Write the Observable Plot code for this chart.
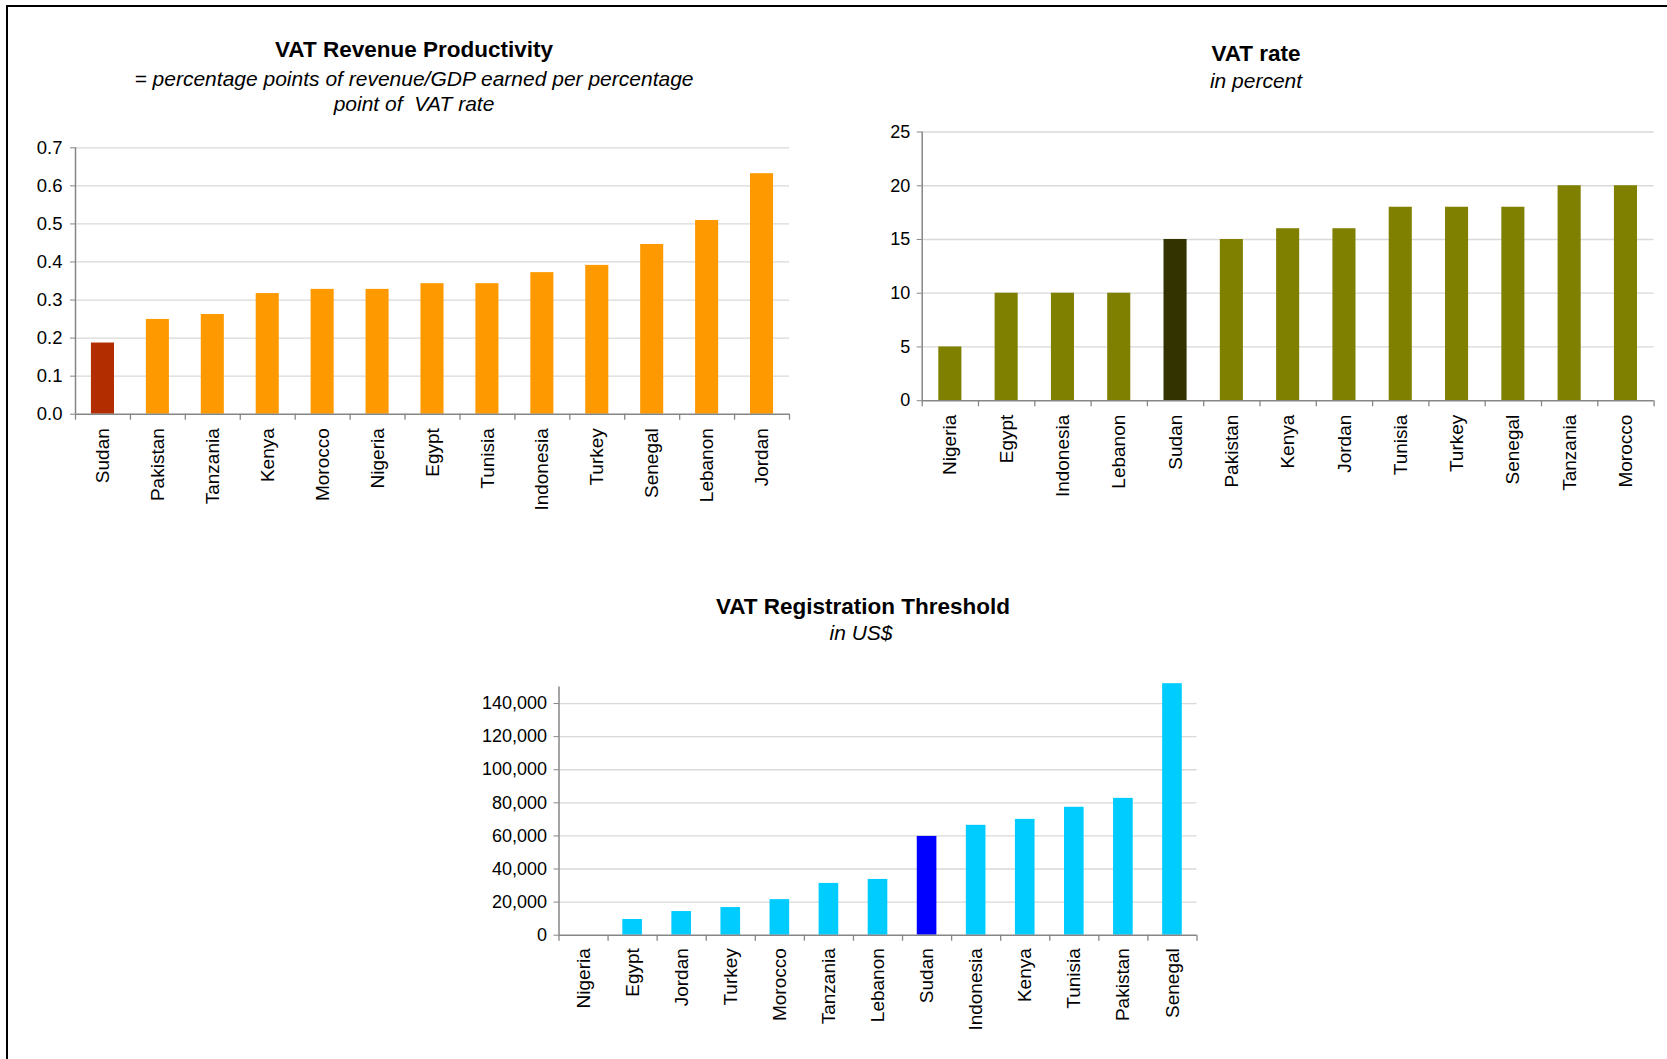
<!DOCTYPE html>
<html>
<head>
<meta charset="utf-8">
<script src="https://cdn.jsdelivr.net/npm/d3@7"></script>
<script src="https://cdn.jsdelivr.net/npm/@observablehq/plot@0.6"></script>
<style>
  html, body { margin: 0; padding: 0; background: #fff; }
  body { width: 1667px; height: 1059px; position: relative; overflow: hidden;
         font-family: "Liberation Sans", Arial, sans-serif; color: #000; }
  .frame { position: absolute; left: 6px; top: 5px; width: 2000px; height: 2000px;
           border-left: 2px solid #000; border-top: 2px solid #000; }
  .chart { position: absolute; }
  .title { position: absolute; transform: translateX(-50%); white-space: pre; text-align: center; }
  .main { font-weight: bold; font-size: 22.5px; line-height: 24px; }
  .sub { font-style: italic; font-size: 21px; line-height: 25px; }
</style>
</head>
<body>
<div class="frame"></div>

<div class="title main" style="left:414px; top:38px;">VAT Revenue Productivity</div>
<div class="title sub" style="left:414px; top:66px;">= percentage points of revenue/GDP earned per percentage
point of  VAT rate</div>

<div class="title main" style="left:1256px; top:42px;">VAT rate</div>
<div class="title sub" style="left:1256px; top:68px;">in percent</div>

<div class="title main" style="left:863px; top:595px;">VAT Registration Threshold</div>
<div class="title sub" style="left:861px; top:620px;">in US$</div>

<div id="c1" class="chart" style="left:0px; top:120px;"></div>
<div id="c2" class="chart" style="left:820px; top:100px;"></div>
<div id="c3" class="chart" style="left:420px; top:660px;"></div>

<script>
// --- VAT revenue productivity (revenue/GDP points per point of VAT rate)
const prodCountries = ["Sudan", "Pakistan", "Tanzania", "Kenya", "Morocco", "Nigeria", "Egypt",
  "Tunisia", "Indonesia", "Turkey", "Senegal", "Lebanon", "Jordan"];
const prodValues = [0.187, 0.249, 0.262, 0.317, 0.328, 0.328, 0.343, 0.343, 0.372, 0.391, 0.446, 0.509, 0.632];
const prodTicks = [0, 0.1, 0.2, 0.3, 0.4, 0.5, 0.6, 0.7];

// --- Standard VAT rate, percent
const rateCountries = ["Nigeria", "Egypt", "Indonesia", "Lebanon", "Sudan", "Pakistan", "Kenya",
  "Jordan", "Tunisia", "Turkey", "Senegal", "Tanzania", "Morocco"];
const rateValues = [5, 10, 10, 10, 15, 15, 16, 16, 18, 18, 18, 20, 20];
const rateTicks = [0, 5, 10, 15, 20, 25];

// --- VAT registration threshold, US$
const thrCountries = ["Nigeria", "Egypt", "Jordan", "Turkey", "Morocco", "Tanzania", "Lebanon",
  "Sudan", "Indonesia", "Kenya", "Tunisia", "Pakistan", "Senegal"];
const thrValues = [0, 9500, 14300, 16700, 21500, 31300, 33700, 59700, 66400, 70000, 77300, 82700, 152000];
const thrTicks = [0, 20000, 40000, 60000, 80000, 100000, 120000, 140000];
const thrMax = 150000;

const highlight = "Sudan";
const axisColor = "#868686";
const gridColor = "#d9d9d9";

function barChart(o) {
  const rows = o.countries.map((c, i) => ({country: c, value: o.values[i]}));
  const plotW = o.width - o.marginLeft - o.marginRight;
  const step = plotW / o.countries.length;   // width of one category slot
  const last = o.countries[o.countries.length - 1];
  return Plot.plot({
    width: o.width,
    height: o.height,
    marginLeft: o.marginLeft,
    marginRight: o.marginRight,
    marginTop: o.marginTop,
    marginBottom: o.marginBottom,
    style: {fontFamily: "'Liberation Sans', Arial, sans-serif", color: "#000", background: "transparent", overflow: "visible"},
    x: {domain: o.countries, paddingInner: o.padding, paddingOuter: o.padding / 2, align: 0.5, round: false},
    y: {domain: [0, o.yMax]},
    marks: [
      Plot.gridY(o.ticks.filter(t => t > 0), {stroke: gridColor, strokeOpacity: 1, strokeWidth: 1.3}),
      Plot.barY(rows, {x: "country", y: "value", fill: d => d.country === highlight ? o.hlFill : o.fill}),
      // value axis line and category baseline
      Plot.ruleX([o.countries[0]], {x: d => d, y1: 0, y2: o.yMax, dx: -step / 2, stroke: axisColor, strokeWidth: 1.5}),
      Plot.ruleY([0], {stroke: axisColor, strokeWidth: 1.5}),
      // tick marks between categories
      Plot.ruleX(o.countries, {x: d => d, y1: 0, y2: 0, insetBottom: -6, dx: -step / 2, stroke: axisColor, strokeWidth: 1.3}),
      Plot.ruleX([last], {x: d => d, y1: 0, y2: 0, insetBottom: -6, dx: step / 2, stroke: axisColor, strokeWidth: 1.3}),
      Plot.axisY(o.ticks, {tickSize: 5, tickPadding: o.tickPad, tickFormat: o.tickFormat, fontSize: o.tickFont,
        stroke: axisColor, fill: "#000", label: null}),
      Plot.axisX({tickSize: 0, tickPadding: o.labelGap, tickRotate: -90, fontSize: 19, fill: "#000", label: null})
    ]
  });
}

document.getElementById("c1").append(barChart({
  countries: prodCountries, values: prodValues, ticks: prodTicks, yMax: 0.7,
  tickFormat: d3.format(".1f"), tickFont: 18.5, tickPad: 8,
  fill: "#ff9900", hlFill: "#b22e00",
  width: 810, height: 400, marginLeft: 75, marginRight: 21, marginTop: 27.3, marginBottom: 106.3,
  padding: 0.58, labelGap: 14
}));

document.getElementById("c2").append(barChart({
  countries: rateCountries, values: rateValues, ticks: rateTicks, yMax: 25,
  tickFormat: d3.format("d"), tickFont: 18, tickPad: 7,
  fill: "#808000", hlFill: "#333300",
  width: 847, height: 420, marginLeft: 101.7, marginRight: 13.4, marginTop: 31.5, marginBottom: 119.8,
  padding: 0.59, labelGap: 14
}));

document.getElementById("c3").append(barChart({
  countries: thrCountries, values: thrValues, ticks: thrTicks, yMax: thrMax,
  tickFormat: d3.format(","), tickFont: 18, tickPad: 7,
  fill: "#00ccff", hlFill: "#0000ff",
  width: 800, height: 399, marginLeft: 138.5, marginRight: 23.5, marginTop: 26.5, marginBottom: 124.3,
  padding: 0.6, labelGap: 13
}));
</script>
</body>
</html>
